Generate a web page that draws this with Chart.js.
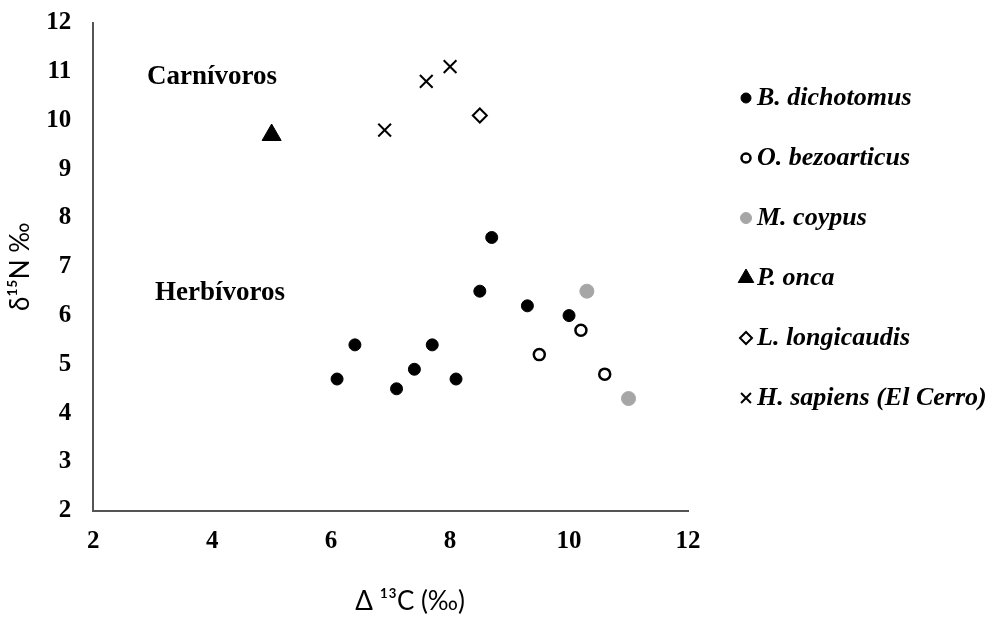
<!DOCTYPE html>
<html>
<head>
<meta charset="utf-8">
<script src="https://cdn.jsdelivr.net/npm/chart.js@4"></script>
<style>
  html, body { margin: 0; padding: 0; background: #fff; }
  #wrap { width: 996px; height: 619px; }
</style>
</head>
<body>
<div id="wrap"><canvas id="isotope_chart"></canvas></div>
<script>
// data
const series_names = ['B. dichotomus', 'O. bezoarticus', 'M. coypus', 'P. onca', 'L. longicaudis', 'H. sapiens (El Cerro)'];
const dichotomus_x = [6.1, 6.4, 7.1, 7.4, 7.7, 8.1, 8.5, 8.7, 9.3, 10.0];
const dichotomus_y = [4.7, 5.4, 4.5, 4.9, 5.4, 4.7, 6.5, 7.6, 6.2, 6.0];
const bezoarticus_x = [9.5, 10.2, 10.6];
const bezoarticus_y = [5.2, 5.7, 4.8];
const coypus_x = [10.3, 11.0];
const coypus_y = [6.5, 4.3];
const onca_x = [5.0];
const onca_y = [9.7];
const longicaudis_x = [8.5];
const longicaudis_y = [10.1];
const sapiens_x = [6.9, 7.6, 8.0];
const sapiens_y = [9.8, 10.8, 11.1];
const x_ticks = [2, 4, 6, 8, 10, 12];
const y_ticks = [2, 3, 4, 5, 6, 7, 8, 9, 10, 11, 12];

function to_points(xs, ys) {
    return xs.map((x, i) => ({ x: x, y: ys[i] }));
}

const tick_font = { family: 'Liberation Serif', size: 25, weight: 'bold' };
const y_tick_font = { family: 'Liberation Serif', size: 25, weight: 'bold', lineHeight: 0.7 };
const title_font = { family: 'Lato', size: 26 };

// legend + group labels drawn on the canvas
const side_legend = {
    id: 'side_legend',
    afterDraw(chart) {
        const ctx = chart.ctx;
        ctx.save();
        ctx.fillStyle = '#000';
        ctx.font = 'bold 27px "Liberation Serif"';
        ctx.textAlign = 'center';
        ctx.textBaseline = 'middle';
        ctx.fillText('Carnívoros', 212, 77);
        ctx.fillText('Herbívoros', 220, 293);

        ctx.font = 'italic bold 26px "Liberation Serif"';
        ctx.textAlign = 'left';
        chart.data.datasets.forEach((ds, i) => {
            const y = 98 + i * 60;
            ctx.fillStyle = ds.backgroundColor;
            ctx.strokeStyle = ds.borderColor;
            ctx.lineWidth = ds.borderWidth;
            Chart.helpers.drawPoint(ctx, {
                pointStyle: ds.pointStyle,
                radius: ds.legendRadius,
                borderWidth: ds.borderWidth,
            }, 746, y);
            ctx.fillStyle = '#000';
            ctx.fillText(ds.label, 757, y);
        });
        ctx.restore();
    }
};

const isotope_chart = document.getElementById('isotope_chart');

new Chart(isotope_chart, {
    type: 'scatter',
    data: {
        datasets: [{
            label: series_names[0],
            data: to_points(dichotomus_x, dichotomus_y),
            pointStyle: 'circle',
            pointRadius: 6,
            legendRadius: 5,
            backgroundColor: '#000',
            borderColor: '#000',
            borderWidth: 1,
        }, {
            label: series_names[1],
            data: to_points(bezoarticus_x, bezoarticus_y),
            pointStyle: 'circle',
            pointRadius: 5.5,
            legendRadius: 4.5,
            backgroundColor: '#fff',
            borderColor: '#000',
            borderWidth: 2.5,
        }, {
            label: series_names[2],
            data: to_points(coypus_x, coypus_y),
            pointStyle: 'circle',
            pointRadius: 7,
            legendRadius: 5.5,
            backgroundColor: '#a6a6a6',
            borderColor: '#a6a6a6',
            borderWidth: 1,
        }, {
            label: series_names[3],
            data: to_points(onca_x, onca_y),
            pointStyle: 'triangle',
            pointRadius: 11,
            legendRadius: 9,
            backgroundColor: '#000',
            borderColor: '#000',
            borderWidth: 1,
        }, {
            label: series_names[4],
            data: to_points(longicaudis_x, longicaudis_y),
            pointStyle: 'rectRot',
            pointRadius: 7,
            legendRadius: 6,
            backgroundColor: '#fff',
            borderColor: '#000',
            borderWidth: 2,
        }, {
            label: series_names[5],
            data: to_points(sapiens_x, sapiens_y),
            pointStyle: 'crossRot',
            pointRadius: 9,
            legendRadius: 7,
            backgroundColor: '#000',
            borderColor: '#000',
            borderWidth: 2,
        }]
    },
    options: {
        responsive: true,
        maintainAspectRatio: false,
        animation: false,
        layout: {
            padding: { left: 5, right: 308, top: 0, bottom: 0 }
        },
        plugins: {
            legend: false,
            tooltip: { enabled: false }
        },
        scales: {
            x: {
                type: 'linear',
                min: 2,
                max: 12,
                afterBuildTicks: (axis) => { axis.ticks = x_ticks.map(v => ({ value: v })); },
                grid: { display: false },
                border: { display: true, color: '#555', width: 2 },
                ticks: { color: '#000', font: tick_font, padding: 8 },
                title: { display: true, text: '\u00a0\u00a0\u00a0\u00a0\u00a0\u00a0Δ ¹³C (‰)', color: '#000', font: title_font, padding: { top: 21, bottom: 2 } }
            },
            y: {
                type: 'linear',
                min: 2,
                max: 12,
                afterBuildTicks: (axis) => { axis.ticks = y_ticks.map(v => ({ value: v })); },
                grid: { display: false },
                border: { display: true, color: '#555', width: 2 },
                ticks: { color: '#000', font: y_tick_font, padding: 14 },
                title: { display: true, text: 'δ¹⁵N ‰', color: '#000', font: title_font, padding: { top: 0, bottom: -4 } }
            }
        }
    },
    plugins: [side_legend]
});
</script>
</body>
</html>
